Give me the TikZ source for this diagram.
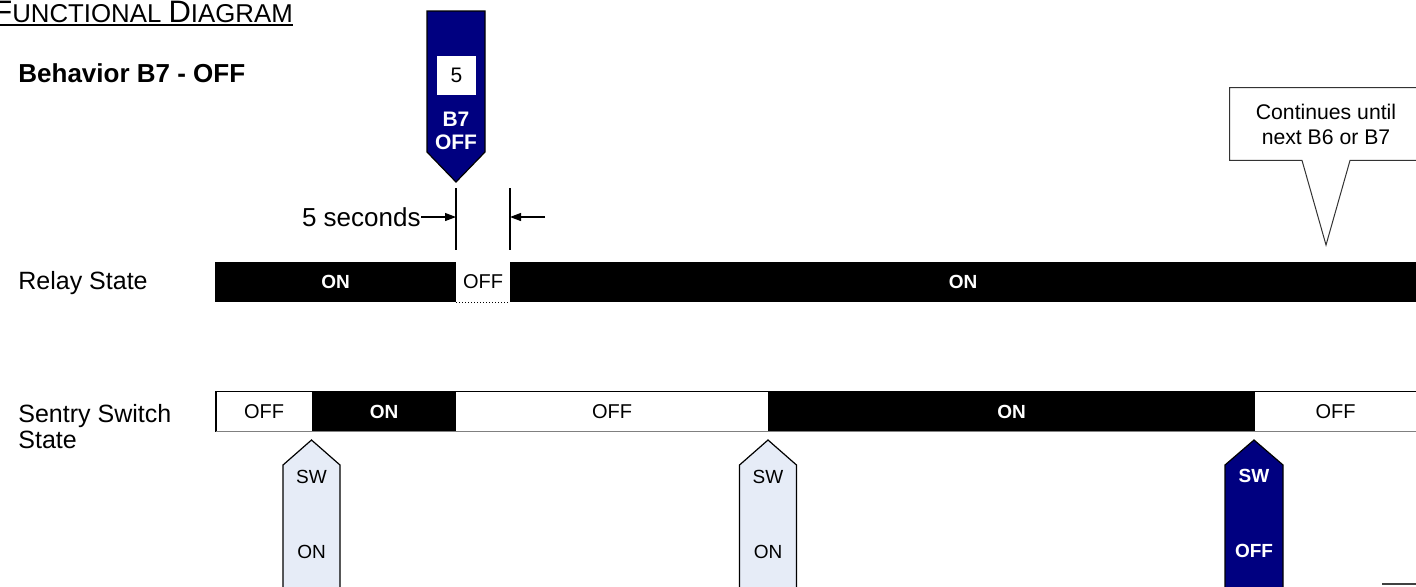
\documentclass[tikz,border=0pt]{standalone}
\usepackage{fontspec}
\setmainfont{Liberation Sans}
\usetikzlibrary{arrows.meta,positioning,calc}
\definecolor{MarkerNavy}{RGB}{0,0,128}
\definecolor{MarkerPale}{RGB}{230,236,247}
\definecolor{EdgeGray}{RGB}{128,128,128}
\tikzset{
  segon/.style  ={rectangle, fill=black, text=white, font=\fontsize{9.5}{11}\selectfont\bfseries,
                  minimum height=20pt, inner sep=0pt, outer sep=0pt, anchor=west},
  segoff/.style ={rectangle, fill=white, text=black, font=\fontsize{10}{12}\selectfont,
                  minimum height=20pt, inner sep=0pt, outer sep=0pt, anchor=west},
  rowlbl/.style ={font=\fontsize{12.5}{13}\selectfont, anchor=west, inner sep=0pt, align=left},
  swpale/.style ={fill=MarkerPale, draw=black, line width=.6pt},
  swnavy/.style ={fill=MarkerNavy, draw=black, line width=.6pt},
  swtext/.style ={font=\fontsize{9.5}{11}\selectfont, inner sep=0pt},
  dimarr/.style ={-{Triangle[length=5.5pt,width=4pt]}, line width=.6pt},
}
\begin{document}
\begin{tikzpicture}[x=0.5pt,y=-0.5pt]
  \clip (0,0) rectangle (1416,586);
  % heading
  \node[anchor=base west, inner sep=0pt] (title) at (-7,22)
    {{\fontsize{15.5}{17}\selectfont F}{\fontsize{12.9}{15}\selectfont UNCTIONAL }{\fontsize{15.5}{17}\selectfont D}{\fontsize{12.9}{15}\selectfont IAGRAM}};
  \draw[line width=.75pt] ($(title.base west)+(0,3)$) -- ($(title.base east)+(0,3)$);
  \node[font=\fontsize{13}{15}\selectfont\bfseries, anchor=west, inner sep=0pt] (behav) at (18,73) {Behavior B7 - OFF};

  % relay row
  \node[rowlbl] (relaylbl) at (18,283) {Relay State};
  \node[segon, minimum width=120.5pt] (r1) at (215,282) {ON};
  \node[segoff, minimum width=27pt, right=0pt of r1] (r2) {OFF};
  \node[segon, minimum width=453pt, right=0pt of r2] (r3) {ON};
  \draw[densely dotted, line width=.5pt] (r2.south west) -- (r2.south east);

  % sentry switch row
  \node[rowlbl] (sentrylbl) at (18,427) {Sentry Switch\\State};
  \node[segoff, minimum width=48pt] (s1) at (216,411.5) {OFF};
  \node[segon, minimum width=72pt, right=0pt of s1] (s2) {ON};
  \node[segoff, minimum width=156pt, right=0pt of s2] (s3) {OFF};
  \node[segon, minimum width=243.5pt, right=0pt of s3] (s4) {ON};
  \node[segoff, minimum width=80.5pt, right=0pt of s4] (s5) {OFF};
  \draw[line width=.6pt] (s5.north east) -- (s1.north west) -- (s1.south west);
  \draw[EdgeGray, line width=.8pt] (s1.south west) -- (s5.south east);

  % B7 marker
  \draw[swnavy] (427,11) -- (485,11) -- (485,152) -- (456,182) -- (427,152) -- cycle;
  \node[fill=white, minimum size=19.5pt, inner sep=0pt, font=\fontsize{10.5}{12}\selectfont] (b7val) at (456.5,75.5) {5};
  \node[text=white, align=center, inner sep=0pt, font=\fontsize{10.5}{11.5}\selectfont\bfseries] (b7txt) at (456,131) {B7\\OFF};

  % 5 second window
  \coordinate (t0a) at (456,188); \coordinate (t0b) at (456,250);
  \coordinate (t1a) at (510,188); \coordinate (t1b) at (510,250);
  \draw[line width=.75pt] (t0a) -- (t0b);
  \draw[line width=.75pt] (t1a) -- (t1b);
  \node[font=\fontsize{13}{15}\selectfont, anchor=east, inner sep=0pt] (secs) at (421,217) {5 seconds};
  \coordinate (secsR) at (545,217);
  \draw[dimarr] (secs.east) -- (t0a |- secs.east);
  \draw[dimarr] (secsR) -- (t1a |- secsR);

  % callout
  \node[minimum width=96pt, minimum height=36pt, align=center, inner sep=0pt,
        font=\fontsize{10.6}{12.5}\selectfont] (note) at (1326,124) {Continues until\\next B6 or B7};
  \coordinate (notetip) at (1326,245);
  \draw[fill=white, draw=black!80, line width=.5pt] (note.north west) -- (note.north east) -- (note.south east)
    -- ($(note.south)+(24,0)$) -- (notetip) -- ($(note.south)+(-24,0)$) -- (note.south west) -- cycle;
  \node[align=center, inner sep=0pt, font=\fontsize{10.6}{12.5}\selectfont] at (note.center) {Continues until\\next B6 or B7};

  % switch markers
  \foreach \x/\n in {311.5/swa,768/swb}{
    \draw[swpale] (\x-28.5,600) -- (\x-28.5,465) -- (\x,440) -- (\x+28.5,465) -- (\x+28.5,600);
    \node[swtext] (\n-lbl) at (\x,477) {SW};
    \node[swtext] (\n-state) at (\x,552) {ON};
  }
  \draw[swnavy] (1225,600) -- (1225,465) -- (1254,440) -- (1283,465) -- (1283,600);
  \node[swtext, text=white, font=\fontsize{9.5}{11}\selectfont\bfseries] (swc-lbl) at (1254,476) {SW};
  \node[swtext, text=white, font=\fontsize{9.5}{11}\selectfont\bfseries] (swc-state) at (1254,551) {OFF};

  \draw[black!75, line width=1pt] (1382,584) -- (1416,584);
\end{tikzpicture}
\end{document}
